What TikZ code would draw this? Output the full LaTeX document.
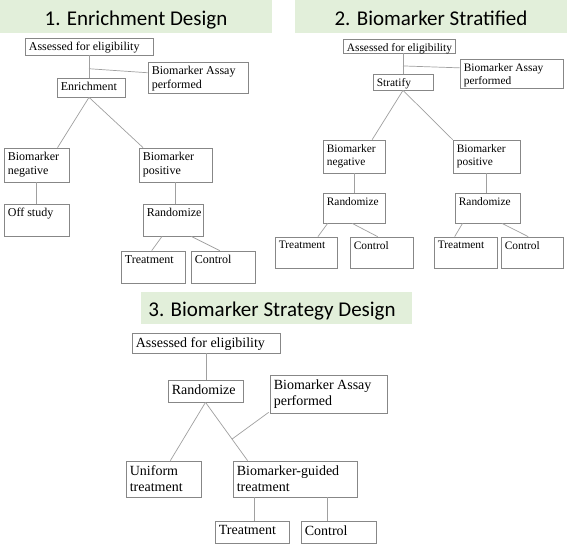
\documentclass[tikz,border=0pt]{standalone}
\usepackage{fontspec}
\setmainfont{Liberation Serif}
\newfontfamily\titlefont{Carlito}
\usetikzlibrary{fit,calc}
\definecolor{bannergreen}{RGB}{226,239,218}
\definecolor{boxline}{RGB}{135,135,135}
\definecolor{conline}{RGB}{160,160,160}
\tikzset{
  boxnode/.style={draw=boxline, line width=0.7pt, inner sep=0pt},
  txta/.style={anchor=north west, inner sep=0pt, align=left, font=\fontsize{12}{13.5}\selectfont},
  txtb/.style={anchor=north west, inner sep=0pt, align=left, font=\fontsize{11.4}{13}\selectfont},
  txtc/.style={anchor=north west, inner sep=0pt, align=left, font=\fontsize{14}{16}\selectfont},
  conn/.style={draw=conline, line width=0.7pt},
  banner/.style={fill=bannergreen, draw=none, inner sep=0pt},
  titletext/.style={anchor=base, inner sep=0pt, font=\titlefont\fontsize{21}{24}\selectfont},
}
\newcommand\mybox[7]{%
  \node[boxnode, fit={(#2,#3) (#4,#5)}] (#1) {};
  \node[#6] (#1t) at ($(#1.north west)+(4,4.5)$) {#7};
}
\begin{document}
\begin{tikzpicture}[x=1pt,y=-1pt]
\useasboundingbox (0,0) rectangle (567,545);
\fill[white] (0,0) rectangle (567,545);

% ---------- banners ----------
\node[banner, fit={(0,0) (272,33)}] (ban1) {};
\node[titletext] (tit1) at (136,26) {1. Enrichment Design};
\node[banner, fit={(295,0) (567,33)}] (ban2) {};
\node[titletext] (tit2) at (431,26) {2. Biomarker Stratified};
\node[banner, fit={(141,292) (412,324)}] (ban3) {};
\node[titletext] (tit3) at (272,316) {3. Biomarker Strategy Design};

% ---------- panel 1 ----------
\mybox{asm1}{25}{38}{153}{55}{txta}{Assessed for eligibility}
\mybox{bma1}{148}{62}{248}{93}{txta}{Biomarker Assay\\performed}
\mybox{enr1}{57}{78}{125}{97}{txta}{Enrichment}
\mybox{neg1}{4}{148}{69}{182}{txta}{Biomarker\\negative}
\mybox{pos1}{139}{148}{212}{182}{txta}{Biomarker\\positive}
\mybox{off1}{4}{204}{69}{236}{txta}{Off study}
\mybox{rnd1}{143}{204}{203}{236}{txta}{Randomize}
\mybox{trt1}{121}{251}{185}{283}{txta}{Treatment}
\mybox{ctl1}{191}{251}{255}{283}{txta}{Control}

\draw[conn] (asm1.south) -- (asm1.south |- enr1.north);
\coordinate (j1) at ($(asm1.south)!0.6!(asm1.south |- enr1.north)$);
\draw[conn] (j1) -- ($(bma1.north west)!0.35!(bma1.south west)$);
\coordinate (e1) at (asm1.south |- enr1.south);
\draw[conn] (e1) -- ($(neg1.north west)!0.82!(neg1.north east)$);
\draw[conn] (e1) -- ($(pos1.north west)!0.06!(pos1.north east)$);
\draw[conn] (neg1.south) -- (neg1.south |- off1.north);
\draw[conn] (pos1.south) -- (pos1.south |- rnd1.north);
\draw[conn] ($(rnd1.south west)!0.32!(rnd1.south east)$) -- ($(trt1.north west)!0.48!(trt1.north east)$);
\draw[conn] ($(rnd1.south west)!0.8!(rnd1.south east)$) -- ($(ctl1.north west)!0.45!(ctl1.north east)$);

% ---------- panel 2 ----------
\mybox{asm2}{343}{39}{455}{53}{txtb}{Assessed for eligibility}
\mybox{bma2}{460}{59}{563}{88}{txtb}{Biomarker Assay\\performed}
\mybox{str2}{373}{74}{433}{90}{txtb}{Stratify}
\mybox{neg2}{323}{140}{385}{173}{txtb}{Biomarker\\negative}
\mybox{pos2}{453}{140}{520}{173}{txtb}{Biomarker\\positive}
\mybox{rn2a}{323}{193}{385}{223}{txtb}{Randomize}
\mybox{rn2b}{455}{193}{520}{223}{txtb}{Randomize}
\mybox{tr2a}{275}{237}{337}{268}{txtb}{Treatment}
\mybox{ct2a}{350}{237}{413}{268}{txtb}{Control}
\mybox{tr2b}{434}{237}{497}{268}{txtb}{Treatment}
\mybox{ct2b}{501}{237}{563}{268}{txtb}{Control}

\draw[conn] (str2.north |- asm2.south) -- (str2.north);
\coordinate (j2) at ($(str2.north |- asm2.south)!0.62!(str2.north)$);
\draw[conn] (j2) -- ($(bma2.north west)!0.31!(bma2.south west)$);
\draw[conn] (str2.south) -- ($(neg2.north west)!0.79!(neg2.north east)$);
\draw[conn] (str2.south) -- (pos2.north west);
\draw[conn] (neg2.south) -- (neg2.south |- rn2a.north);
\draw[conn] (pos2.south) -- (pos2.south |- rn2b.north);
\draw[conn] ($(rn2a.south west)!0.08!(rn2a.south east)$) -- ($(tr2a.north west)!0.69!(tr2a.north east)$);
\draw[conn] ($(rn2a.south west)!0.47!(rn2a.south east)$) -- ($(ct2a.north west)!0.44!(ct2a.north east)$);
\draw[conn] ($(rn2b.south west)!0.12!(rn2b.south east)$) -- ($(tr2b.north west)!0.33!(tr2b.north east)$);
\draw[conn] ($(rn2b.south west)!0.72!(rn2b.south east)$) -- ($(ct2b.north west)!0.44!(ct2b.north east)$);

% ---------- panel 3 ----------
\mybox{asm3}{132}{333}{280}{353}{txtc}{Assessed for eligibility}
\mybox{rnd3}{168}{380}{243}{402}{txtc}{Randomize}
\mybox{bma3}{270}{375}{387}{413}{txtc}{Biomarker Assay\\performed}
\mybox{uni3}{126}{461}{201}{497}{txtc}{Uniform\\treatment}
\mybox{bgd3}{233}{461}{357}{497}{txtc}{Biomarker-guided\\treatment}
\mybox{trt3}{215}{521}{289}{543}{txtc}{Treatment}
\mybox{ctl3}{301}{521}{376}{543}{txtc}{Control}

\draw[conn] (asm3.south) -- (asm3.south |- rnd3.north);
\draw[conn] (rnd3.south) -- ($(uni3.north west)!0.59!(uni3.north east)$);
\coordinate (g3) at ($(bgd3.north west)!0.12!(bgd3.north east)$);
\draw[conn] (rnd3.south) -- (g3);
\coordinate (j3) at ($(rnd3.south)!0.63!(g3)$);
\draw[conn] (j3) -- ($(bma3.south west)+(-1,-1)$);
\coordinate (b3a) at ($(bgd3.south west)+(22,0)$);
\coordinate (b3b) at ($(bgd3.south west)+(95,0)$);
\draw[conn] (b3a) -- (b3a |- trt3.north);
\draw[conn] (b3b) -- (b3b |- ctl3.north);
\end{tikzpicture}
\end{document}
